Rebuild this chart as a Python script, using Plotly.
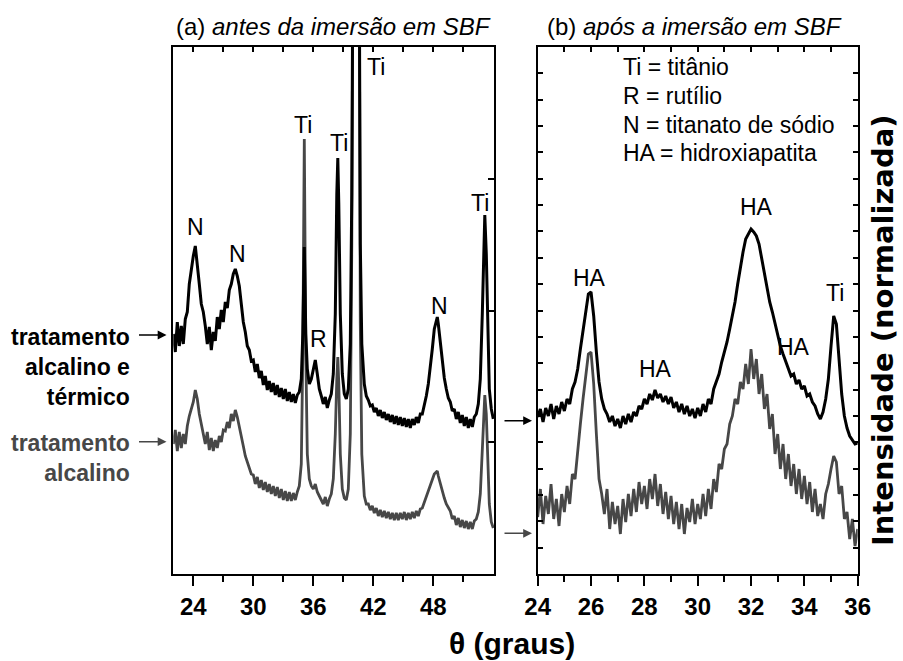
import plotly.graph_objects as go

# ---------------- data ----------------
# Panel (a): before SBF immersion, 2-theta in degrees, intensity in arbitrary units
LEFT_2THETA = [
    22.0, 22.2, 22.4, 22.6, 22.8, 23.0, 23.2, 23.4, 23.6, 23.8,
    24.0, 24.2, 24.4, 24.6, 24.8, 25.0, 25.2, 25.4, 25.6, 25.8,
    26.0, 26.2, 26.4, 26.6, 26.8, 27.0, 27.2, 27.4, 27.6, 27.8,
    28.0, 28.2, 28.4, 28.6, 28.8, 29.0, 29.2, 29.4, 29.6, 29.8,
    30.0, 30.2, 30.4, 30.6, 30.8, 31.0, 31.2, 31.4, 31.6, 31.8,
    32.0, 32.2, 32.4, 32.6, 32.8, 33.0, 33.2, 33.4, 33.6, 33.8,
    34.0, 34.2, 34.4, 34.6, 34.8,
    34.95, 35.1, 35.25, 35.4, 35.6, 35.8, 36.0, 36.2, 36.4, 36.6,
    36.8, 37.0, 37.2, 37.4, 37.6, 37.8, 38.0, 38.2, 38.35, 38.45,
    38.55, 38.7, 38.9, 39.1, 39.3, 39.5, 39.7, 39.85, 39.95, 40.25,
    40.6, 40.7, 40.85, 41.0,
    41.1, 41.3, 41.5, 41.7, 41.9, 42.1, 42.3, 42.5, 42.7, 42.9,
    43.1, 43.3, 43.5, 43.7, 43.9, 44.1, 44.3, 44.5, 44.7, 44.9,
    45.1, 45.3, 45.5, 45.7, 45.9, 46.1, 46.3, 46.5, 46.7, 46.9,
    47.1, 47.3, 47.5, 47.7, 47.9, 48.1, 48.3, 48.4, 48.5, 48.7,
    48.9, 49.1, 49.3, 49.5, 49.7, 49.9, 50.1, 50.3, 50.5, 50.7,
    50.9, 51.1, 51.3, 51.5, 51.7, 51.9, 52.1, 52.3, 52.5, 52.7,
    52.9,
    53.05, 53.15, 53.3, 53.45, 53.6, 53.8, 54.0,
]
# "tratamento alcalino e térmico" (black)
LEFT_ALK_THERMAL = [
    240, 222, 252, 228, 248, 230, 255, 262, 290, 305,
    318, 328, 312, 290, 270, 262, 248, 230, 247, 224,
    242, 233, 257, 245, 264, 252, 272, 266, 284, 290,
    300, 305, 298, 288, 270, 252, 242, 228, 224, 213,
    214, 202, 210, 196, 203, 189, 198, 184, 193, 182,
    191, 179, 189, 177, 186, 175, 185, 173, 182, 172,
    180, 171, 179, 182, 195,
    240, 327, 240, 205, 190, 195, 205, 214, 200, 185,
    178, 170, 177, 166, 174, 180, 200, 260, 380, 416,
    370, 260, 200, 180, 175, 185, 230, 380, 600, 1000,
    600, 330, 230, 200,
    190, 178, 174, 168, 169, 162, 166, 158, 164, 156,
    162, 154, 160, 152, 159, 150, 158, 149, 157, 148,
    156, 147, 155, 146, 155, 149, 157, 151, 160, 160,
    168, 178, 190, 205, 225, 245, 254, 257, 250, 232,
    212, 196, 185, 176, 172, 163, 165, 155, 162, 151,
    159, 148, 157, 146, 155, 147, 157, 160, 170, 195,
    260,
    330, 359, 320, 230, 185, 165, 155,
]
# "tratamento alcalino" (grey)
LEFT_ALK = [
    130, 144, 123, 142, 126, 140, 130, 148, 158, 165,
    172, 184, 175, 160, 148, 140, 130, 142, 124, 136,
    123, 134, 126, 138, 132, 144, 143, 152, 146, 160,
    153, 164, 157, 148, 140, 128, 118, 112, 104, 100,
    99, 90, 97, 86, 94, 84, 92, 82, 90, 80,
    88, 78, 87, 76, 85, 74, 83, 73, 82, 73,
    81, 74, 82, 88, 110,
    220, 435, 220, 120, 95, 88, 85, 90, 82, 78,
    74, 70, 77, 68, 75, 80, 95, 140, 195, 217,
    190, 120, 85, 76, 74, 85, 140, 330, 600, 1000,
    600, 250, 120, 90,
    78, 70, 70, 64, 68, 61, 66, 58, 64, 57,
    63, 56, 62, 55, 61, 54, 61, 54, 61, 55,
    62, 54, 61, 55, 62, 56, 63, 58, 65, 66,
    72, 76, 82, 88, 95, 100, 102, 103, 98, 90,
    82, 76, 70, 66, 63, 55, 58, 49, 56, 47,
    54, 46, 53, 45, 52, 45, 53, 55, 62, 80,
    120,
    165, 179, 160, 110, 70, 52, 46,
]

# Panel (b): after SBF immersion
RIGHT_2THETA = [
    24.0, 24.1, 24.2, 24.3, 24.4, 24.5, 24.6, 24.7, 24.8, 24.9,
    25.0, 25.1, 25.2, 25.3, 25.4, 25.5, 25.6, 25.7, 25.8, 25.9,
    26.0, 26.1, 26.2, 26.3, 26.4, 26.5, 26.6, 26.7, 26.8, 26.9,
    27.0, 27.1, 27.2, 27.3, 27.4, 27.5, 27.6, 27.7, 27.8, 27.9,
    28.0, 28.1, 28.2, 28.3, 28.4, 28.5, 28.6, 28.7, 28.8, 28.9,
    29.0, 29.1, 29.2, 29.3, 29.4, 29.5, 29.6, 29.7, 29.8, 29.9,
    30.0, 30.1, 30.2, 30.3, 30.4, 30.5, 30.6, 30.7, 30.8, 30.9,
    31.0, 31.1, 31.2, 31.3, 31.4, 31.5, 31.6, 31.7, 31.8, 31.9,
    32.0, 32.1, 32.2, 32.3, 32.4, 32.5, 32.6, 32.7, 32.8, 32.9,
    33.0, 33.1, 33.2, 33.3, 33.4, 33.5, 33.6, 33.7, 33.8, 33.9,
    34.0, 34.1, 34.2, 34.3, 34.4, 34.5, 34.6, 34.7, 34.8, 34.9,
    35.0, 35.1, 35.2, 35.3, 35.4, 35.5, 35.6, 35.7, 35.8, 35.9,
    36.0,
]
RIGHT_ALK_THERMAL = [
    157, 165, 152, 166, 158, 170, 155, 168, 160, 172,
    163, 175, 170, 185, 192, 205, 225, 244, 264, 280,
    282, 258, 222, 192, 175, 165, 160, 152, 158, 148,
    155, 146, 158, 150, 160, 152, 162, 158, 168, 165,
    175, 170, 180, 174, 184, 176, 180, 172, 178, 170,
    177, 166, 172, 162, 170, 160, 168, 158, 165, 156,
    166, 158, 170, 162, 175, 170, 185, 192, 200, 212,
    222, 232, 245, 258, 272, 290, 308, 322, 335, 340,
    345, 342, 338, 330, 315, 300, 285, 272, 262, 250,
    238, 228, 220, 212, 206, 198, 200, 190, 194, 185,
    188, 178, 180, 172, 168, 160, 155, 162, 175, 195,
    228, 258, 250, 215, 180, 158, 146, 138, 134, 130,
    131,
]
RIGHT_ALK = [
    57, 85, 50, 78, 60, 90, 55, 75, 48, 80,
    62, 88, 70, 100, 95, 125, 150, 175, 198, 220,
    222, 190, 140, 95, 80, 60, 85, 45, 72, 50,
    68, 40, 75, 52, 80, 58, 85, 62, 92, 70,
    88, 65, 95, 75, 100, 68, 90, 60, 82, 55,
    78, 50, 72, 45, 70, 40, 66, 52, 75, 50,
    70, 55, 80, 58, 85, 65, 95, 82, 110, 105,
    125, 130, 150, 158, 175, 170, 192, 185, 210, 190,
    225, 195, 215, 180, 200, 165, 180, 145, 160, 120,
    140, 105, 130, 95, 120, 88, 110, 80, 105, 75,
    98, 70, 92, 62, 85, 58, 70, 55, 80, 90,
    105, 118, 112, 80, 88, 55, 62, 35, 55, 28,
    45,
]

LEFT_MAJOR_TICKS = [24, 30, 36, 42, 48]
LEFT_MINOR_TICKS = [27, 33, 39, 45, 51]
RIGHT_MAJOR_TICKS = [24, 26, 28, 30, 32, 34, 36]
RIGHT_MINOR_TICKS = [25, 27, 29, 31, 33, 35]

# peak labels: (text, 2-theta, intensity)
LEFT_PEAK_LABELS = [
    ("N", 24.2, 347), ("N", 28.4, 320), ("Ti", 35.0, 449), ("R", 36.5, 235),
    ("Ti", 38.6, 431), ("Ti", 42.3, 507), ("N", 48.6, 268), ("Ti", 52.7, 371),
]
RIGHT_PEAK_LABELS = [
    ("HA", 25.94, 296), ("HA", 28.4, 205), ("HA", 32.19, 367),
    ("HA", 33.58, 227), ("Ti", 35.16, 281),
]
KEY_LINES = ["Ti = titânio", "R = rutílio", "N = titanato de sódio", "HA = hidroxiapatita"]

# ---------------- styling ----------------
W, H = 903, 661
FONT = "Liberation Sans, Arial, Helvetica, sans-serif"
BLACK = "#000000"
GREY = "#474747"


def fx(p):
    return p / W


def fy(p):
    return 1 - p / H


YDOM = [fy(574), fy(47)]
YMAX = 527

fig = go.Figure()
for xs, ys, col, wid, xa, ya in [
    (LEFT_2THETA, LEFT_ALK, GREY, 2.8, "x", "y"),
    (LEFT_2THETA, LEFT_ALK_THERMAL, BLACK, 3.0, "x", "y"),
    (RIGHT_2THETA, RIGHT_ALK, GREY, 2.8, "x2", "y2"),
    (RIGHT_2THETA, RIGHT_ALK_THERMAL, BLACK, 3.0, "x2", "y2"),
]:
    fig.add_trace(go.Scatter(x=xs, y=ys, mode="lines", xaxis=xa, yaxis=ya,
                             line=dict(color=col, width=wid),
                             showlegend=False, hoverinfo="skip"))
# empty helper traces so the top tick-only axes are drawn
for xa, ya in [("x3", "y"), ("x4", "y2")]:
    fig.add_trace(go.Scatter(x=[None], y=[None], mode="lines", xaxis=xa, yaxis=ya,
                             showlegend=False, hoverinfo="skip"))

tickfont = dict(family=FONT, size=24, color=BLACK, weight="bold")
common_x = dict(showgrid=False, zeroline=False, showline=True, linecolor=BLACK, linewidth=2,
                mirror=True, ticks="outside", ticklen=10, tickwidth=2, tickcolor=BLACK,
                tickfont=tickfont, automargin=False)
top_x = dict(side="top", ticks="inside", ticklen=5, tickwidth=1.5, tickcolor=BLACK,
             showticklabels=False, showgrid=False, zeroline=False, showline=False,
             automargin=False)
base_y = dict(showgrid=False, zeroline=False, showline=True, linecolor=BLACK, linewidth=2,
              ticks="inside", tickwidth=1.5, tickcolor=BLACK, showticklabels=False,
              range=[0, YMAX], domain=YDOM, automargin=False, tick0=0)

fig.update_layout(
    width=W, height=H, autosize=False,
    margin=dict(l=0, r=0, t=0, b=0, pad=0, autoexpand=False),
    paper_bgcolor="white", plot_bgcolor="white",
    font=dict(family=FONT, color=BLACK),
    xaxis=dict(domain=[fx(173.3), fx(494)], range=[22, 54.07], anchor="y",
               tickvals=LEFT_MAJOR_TICKS,
               minor=dict(tickvals=LEFT_MINOR_TICKS, ticks="outside", ticklen=6,
                          tickwidth=2, tickcolor=BLACK, showgrid=False),
               **common_x),
    xaxis2=dict(domain=[fx(537.7), fx(857.7)], range=[24, 36], anchor="y2",
                tickvals=RIGHT_MAJOR_TICKS,
                minor=dict(tickvals=RIGHT_MINOR_TICKS, ticks="outside", ticklen=6,
                           tickwidth=2, tickcolor=BLACK, showgrid=False),
                **common_x),
    xaxis3=dict(overlaying="x", anchor="y", range=[22, 54.07],
                tickvals=LEFT_MAJOR_TICKS + LEFT_MINOR_TICKS, **top_x),
    xaxis4=dict(overlaying="x2", anchor="y2", range=[24, 36],
                tickvals=RIGHT_MAJOR_TICKS + RIGHT_MINOR_TICKS, **top_x),
    yaxis=dict(anchor="x", side="right", mirror=True, dtick=YMAX / 4, ticklen=6, **base_y),
    yaxis2=dict(anchor="x2", mirror="ticks", dtick=YMAX / 20, ticklen=5, **base_y),
)

ann = []
# panel titles
ann.append(dict(text="(a) <i>antes da imersão em SBF</i>", x=fx(333), y=fy(26),
                xref="paper", yref="paper", showarrow=False, xanchor="center", yanchor="middle",
                font=dict(size=24, family=FONT, color=BLACK)))
ann.append(dict(text="(b) <i>após a imersão em SBF</i>", x=fx(694), y=fy(26),
                xref="paper", yref="paper", showarrow=False, xanchor="center", yanchor="middle",
                font=dict(size=24, family=FONT, color=BLACK)))
# peak labels
for t, xv, yv in LEFT_PEAK_LABELS:
    ann.append(dict(text=t, x=xv, y=yv, xref="x", yref="y", showarrow=False,
                    xanchor="center", yanchor="middle", font=dict(size=23, family=FONT, color=BLACK)))
for t, xv, yv in RIGHT_PEAK_LABELS:
    ann.append(dict(text=t, x=xv, y=yv, xref="x2", yref="y2", showarrow=False,
                    xanchor="center", yanchor="middle", font=dict(size=23, family=FONT, color=BLACK)))
# key
for t, py in zip(KEY_LINES, [67, 96, 124.5, 152.5]):
    ann.append(dict(text=t, x=fx(621), y=fy(py), xref="paper", yref="paper", showarrow=False,
                    xanchor="left", yanchor="middle", font=dict(size=23, family=FONT, color=BLACK)))
# sample labels
ann.append(dict(text="tratamento<br>alcalino e<br>térmico", x=fx(132), y=fy(366.7),
                xref="paper", yref="paper", showarrow=False, xanchor="right", yanchor="middle",
                align="right", font=dict(size=23, family=FONT, color=BLACK, weight="bold")))
ann.append(dict(text="tratamento<br>alcalino", x=fx(132), y=fy(457.5),
                xref="paper", yref="paper", showarrow=False, xanchor="right", yanchor="middle",
                align="right", font=dict(size=23, family=FONT, color=GREY, weight="bold")))
# arrows
for tipx, tipy, col in [(166.5, 335, BLACK), (166.5, 441.7, GREY),
                        (532, 420.7, BLACK), (532, 533.3, GREY)]:
    ann.append(dict(text="", x=fx(tipx), y=fy(tipy), xref="paper", yref="paper",
                    showarrow=True, ax=-29, ay=0, arrowhead=2, arrowsize=1.1,
                    arrowwidth=1.6, arrowcolor=col))
# axis titles
ann.append(dict(text="θ (graus)", x=fx(511.7), y=fy(643), xref="paper", yref="paper",
                showarrow=False, xanchor="center", yanchor="middle",
                font=dict(size=30, family=FONT, color=BLACK, weight="bold")))
ann.append(dict(text="Intensidade (normalizada)", x=fx(883), y=fy(330), xref="paper", yref="paper",
                showarrow=False, xanchor="center", yanchor="middle", textangle=-90,
                font=dict(size=29, family="DejaVu Sans, " + FONT, color=BLACK, weight="bold")))
fig.update_layout(annotations=ann)

fig.write_html("out.html", config={"responsive": False, "displayModeBar": False},
               post_script="document.body.style.margin='0';")
